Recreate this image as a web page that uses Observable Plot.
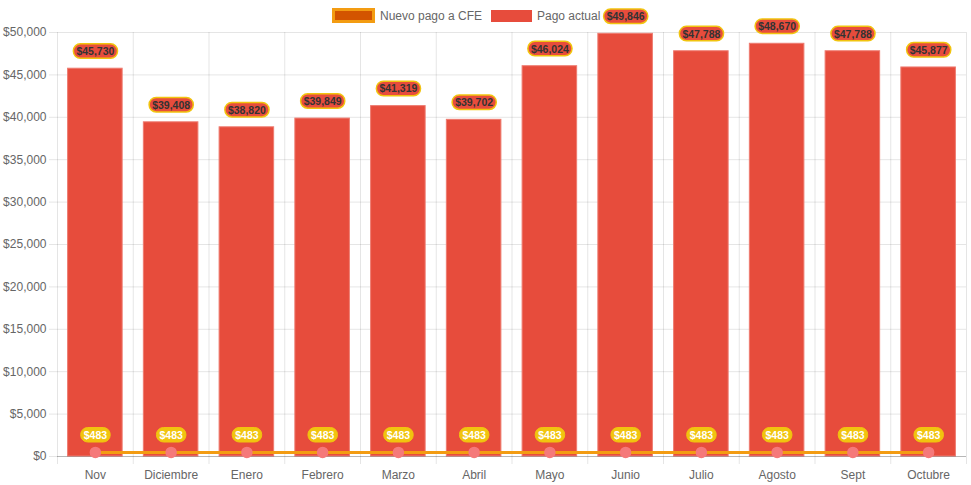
<!DOCTYPE html>
<html>
<head>
<meta charset="utf-8">
<script src="https://cdn.jsdelivr.net/npm/d3@7"></script>
<script src="https://cdn.jsdelivr.net/npm/@observablehq/plot@0.6"></script>
<style>
  body { margin: 0; background: #fff; font-family: "Liberation Sans", Arial, Helvetica, sans-serif; }
  #wrap { position: relative; width: 971px; height: 485px; }
  #legend { position: absolute; top: 0; left: 0; width: 971px; height: 32px; font-size: 12px; color: #666; }
  .sw { position: absolute; box-sizing: border-box; }
  .lt { position: absolute; top: 9px; line-height: 14px; white-space: nowrap; }
</style>
</head>
<body>
<div id="wrap">
  <div id="chart"></div>
  <div id="legend">
    <div class="sw" style="left:332px;top:8px;width:43px;height:15px;background:#d35400;border:3px solid #f39c12;"></div>
    <div class="lt" style="left:380px;">Nuevo pago a CFE</div>
    <div class="sw" style="left:491px;top:10px;width:41px;height:12px;background:#e74c3c;"></div>
    <div class="lt" style="left:537px;">Pago actual</div>
  </div>
</div>
<script>
const months = ["Nov","Diciembre","Enero","Febrero","Marzo","Abril","Mayo","Junio","Julio","Agosto","Sept","Octubre"];
const pagoActual = [45730, 39408, 38820, 39849, 41319, 39702, 46024, 49846, 47788, 48670, 47788, 45877];
const nuevoPago = [483, 483, 483, 483, 483, 483, 483, 483, 483, 483, 483, 483];
const yTicks = [0, 5000, 10000, 15000, 20000, 25000, 30000, 35000, 40000, 45000, 50000];

const data = months.map((m, i) => ({month: m, actual: pagoActual[i], nuevo: nuevoPago[i]}));
const money = d => "$" + d3.format(",")(d);

const W = 971, H = 485, mL = 57, mR = 5, mT = 32, mB = 29;
const step = (W - mL - mR) / months.length;

const chart = Plot.plot({
  width: W, height: H,
  marginLeft: mL, marginRight: mR, marginTop: mT, marginBottom: mB,
  style: {fontFamily: "'Liberation Sans', Arial, Helvetica, sans-serif", fontSize: "12px", color: "#666", background: "#fff"},
  x: {domain: months, paddingInner: 0.28, paddingOuter: 0.14, round: false, label: null},
  y: {domain: [0, 50000], label: null},
  marks: [
    Plot.gridY(yTicks, {stroke: "#000", strokeOpacity: 0.1, insetLeft: -8}),
    Plot.ruleX(months, {x: d => d, dx: -step / 2, stroke: "#000", strokeOpacity: 0.1, insetBottom: -8}),
    Plot.ruleX([months[months.length - 1]], {x: d => d, dx: step / 2, stroke: "#000", strokeOpacity: 0.1, insetBottom: -8}),
    Plot.axisY(yTicks, {tickFormat: money, tickSize: 0, tickPadding: 11, fill: "#666", fontSize: 12, label: null}),
    Plot.axisX({tickSize: 0, tickPadding: 14, fill: "#666", fontSize: 12, label: null}),
    Plot.barY(data, {x: "month", y: "actual", fill: "#e74c3c", stroke: "#ee7b70", strokeWidth: 1}),
    Plot.ruleY([0], {stroke: "#000", strokeOpacity: 0.2}),
    Plot.line(data, {x: "month", y: "nuevo", stroke: "#f39c12", strokeWidth: 3}),
    Plot.dot(data, {x: "month", y: "nuevo", r: 5, fill: "#f5797a", stroke: "#f5797a"}),
    Plot.text(data, {x: "month", y: "actual", text: d => money(d.actual), dy: -17, fill: "#333", fontWeight: "bold", fontSize: 10.5, ariaLabel: () => "top-labels"}),
    Plot.text(data, {x: "month", y: "nuevo", text: d => money(d.nuevo), dy: -17, fill: "#fff", fontWeight: "bold", fontSize: 10.5, ariaLabel: () => "low-labels"})
  ]
});
document.getElementById("chart").appendChild(chart);

function badges(label, fill, stroke, sw) {
  let texts = [];
  chart.querySelectorAll(`[aria-label="${label}"]`).forEach(el => {
    if (el.tagName.toLowerCase() === "text") texts.push(el);
    else el.querySelectorAll("text").forEach(t => texts.push(t));
  });
  texts.forEach(t => {
    const b = t.getBBox();
    const r = document.createElementNS("http://www.w3.org/2000/svg", "rect");
    const h = 14.5;
    const cy = b.y + b.height / 2;
    r.setAttribute("x", b.x - 3);
    r.setAttribute("y", cy - h / 2);
    r.setAttribute("width", b.width + 6);
    r.setAttribute("height", h);
    r.setAttribute("rx", 7);
    r.setAttribute("fill", fill);
    r.setAttribute("stroke", stroke);
    r.setAttribute("stroke-width", sw);
    const tr = t.getAttribute("transform");
    if (tr) r.setAttribute("transform", tr);
    t.parentNode.insertBefore(r, t);
  });
}
badges("top-labels", "#e74c3c", "#f1c40f", 1.5);
badges("low-labels", "#f1c40f", "#f1c40f", 1);
</script>
</body>
</html>
